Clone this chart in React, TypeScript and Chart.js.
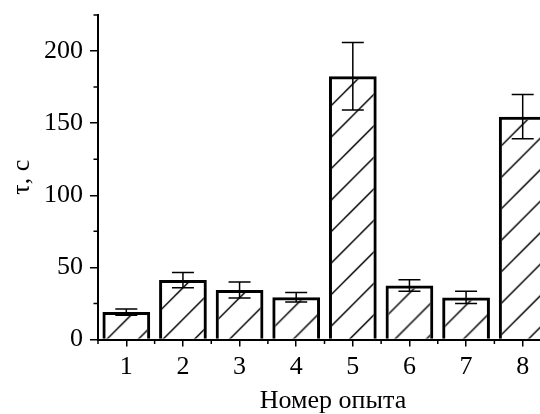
import { useEffect, useRef } from 'react';
import { Chart, registerables } from 'chart.js';

Chart.register(...registerables);

// ---- data ----
const experiments = [1, 2, 3, 4, 5, 6, 7, 8];
const xTickLabels = ['1', '2', '3', '4', '5', '6', '7', '8'];
const tauValues = [19, 41.2, 34.3, 29.3, 182.5, 37.5, 29.2, 154.5];
const tauErrors = [2.1, 5.3, 5.5, 3.3, 23.4, 4, 4.3, 15.3];
const yMajorTicks = [0, 50, 100, 150, 200];
const yMinorTicks = [25, 75, 125, 175, 225];
const xMinorTicks = [0.5, 1.5, 2.5, 3.5, 4.5, 5.5, 6.5, 7.5, 8.5];
const xTitle = 'Номер опыта';
const yTitle = 'τ, с';

const X_MIN = 0.5;
const X_MAX = 8.8;
const Y_MIN = 0;
const Y_MAX = 225;
const BAR_FRACTION = 0.843;
const FONT = '"Liberation Serif", "Times New Roman", serif';

function makeHatchTile(): HTMLCanvasElement {
  const step = 31.5;
  const size = 63;
  const c = document.createElement('canvas');
  c.width = size;
  c.height = size;
  const g = c.getContext('2d')!;
  g.strokeStyle = '#000';
  g.lineWidth = 1.5;
  for (let k = -1; k <= 5; k++) {
    const d = k * step;
    g.beginPath();
    g.moveTo(d + 6, -6);
    g.lineTo(-6, d + 6);
    g.stroke();
  }
  return c;
}

const minorTicksPlugin = {
  id: 'minorTicks',
  afterDraw(chart: any) {
    const { ctx, chartArea, scales } = chart;
    const xs = scales.x;
    const ys = scales.y;
    ctx.save();
    ctx.strokeStyle = '#000';
    ctx.lineWidth = 1.5;
    ctx.beginPath();
    for (const v of yMinorTicks) {
      const y = ys.getPixelForValue(v);
      ctx.moveTo(chartArea.left - 4.5, y);
      ctx.lineTo(chartArea.left, y);
    }
    for (const v of xMinorTicks) {
      const x = xs.getPixelForValue(v);
      ctx.moveTo(x, chartArea.bottom);
      ctx.lineTo(x, chartArea.bottom + 4.5);
    }
    ctx.stroke();
    ctx.restore();
  },
};

const errorBarsPlugin = {
  id: 'errorBars',
  afterDatasetsDraw(chart: any) {
    const { ctx, scales } = chart;
    const ys = scales.y;
    const meta = chart.getDatasetMeta(0);
    ctx.save();
    ctx.strokeStyle = '#000';
    ctx.lineWidth = 1.5;
    meta.data.forEach((el: any, i: number) => {
      const x = el.x;
      const yTop = ys.getPixelForValue(tauValues[i] + tauErrors[i]);
      const yBot = ys.getPixelForValue(tauValues[i] - tauErrors[i]);
      const half = 11;
      ctx.beginPath();
      ctx.moveTo(x, yTop);
      ctx.lineTo(x, yBot);
      ctx.moveTo(x - half, yTop);
      ctx.lineTo(x + half, yTop);
      ctx.moveTo(x - half, yBot);
      ctx.lineTo(x + half, yBot);
      ctx.stroke();
    });
    ctx.restore();
  },
};

export default function App() {
  const canvasRef = useRef<HTMLCanvasElement | null>(null);

  useEffect(() => {
    const canvas = canvasRef.current;
    if (!canvas) return;
    const tile = makeHatchTile();

    const chart = new Chart(canvas, {
      type: 'bar',
      data: {
        datasets: [
          {
            data: experiments.map((x, i) => ({ x, y: tauValues[i] })),
            borderColor: '#000',
            borderWidth: 3,
            borderSkipped: 'start',
            categoryPercentage: 1,
            barPercentage: BAR_FRACTION,
            backgroundColor: (c: any) => {
              const ch = c.chart;
              const pattern = ch.ctx.createPattern(tile, 'repeat');
              const xs = ch.scales?.x;
              const ys = ch.scales?.y;
              if (!pattern) return 'transparent';
              if (xs && ys && c.dataIndex !== undefined) {
                const unit = xs.getPixelForValue(1) - xs.getPixelForValue(0);
                const w = unit * BAR_FRACTION;
                const left = xs.getPixelForValue(experiments[c.dataIndex]) - w / 2;
                const top = ys.getPixelForValue(tauValues[c.dataIndex]);
                pattern.setTransform(new DOMMatrix().translate(left, top));
              }
              return pattern;
            },
          },
        ],
      },
      options: {
        animation: false,
        responsive: false,
        devicePixelRatio: 1,
        layout: { padding: { top: 15, right: 12, bottom: 0, left: 0 } },
        plugins: {
          legend: { display: false },
          tooltip: { enabled: false },
        },
        scales: {
          x: {
            type: 'linear',
            offset: false,
            bounds: 'data',
            min: X_MIN,
            max: X_MAX,
            afterBuildTicks: (scale: any) => {
              scale.ticks = experiments.map((v) => ({ value: v }));
            },
            afterFit: (scale: any) => {
              scale.height = 74.5;
              scale.paddingLeft = 0;
              scale.paddingRight = 0;
            },
            ticks: {
              autoSkip: false,
              maxRotation: 0,
              color: '#000',
              padding: 5,
              font: { family: FONT, size: 26 },
              callback: (_v: any, i: number) => xTickLabels[i],
            },
            grid: {
              offset: false,
              drawOnChartArea: false,
              drawTicks: true,
              tickLength: 7,
              color: '#000',
              lineWidth: 1.5,
              tickWidth: 1.5,
            },
            border: { display: true, color: '#000', width: 2 },
            title: {
              display: true,
              text: xTitle,
              color: '#000',
              font: { family: FONT, size: 26, lineHeight: 1 },
              padding: { top: 0, bottom: 0 },
            },
          },
          y: {
            type: 'linear',
            bounds: 'data',
            min: Y_MIN,
            max: Y_MAX,
            afterBuildTicks: (scale: any) => {
              scale.ticks = yMajorTicks.map((v) => ({ value: v }));
            },
            afterFit: (scale: any) => {
              scale.width = 98;
              scale.paddingTop = 0;
              scale.paddingBottom = 0;
            },
            ticks: {
              autoSkip: false,
              color: '#000',
              padding: 7,
              font: { family: FONT, size: 26 },
              callback: (v: any) => String(v),
            },
            grid: {
              drawOnChartArea: false,
              drawTicks: true,
              tickLength: 8,
              color: '#000',
              lineWidth: 1.5,
              tickWidth: 1.5,
            },
            border: { display: true, color: '#000', width: 2 },
            title: {
              display: true,
              text: yTitle,
              color: '#000',
              font: { family: FONT, size: 26, lineHeight: 1 },
              padding: { top: 9, bottom: 0 },
            },
          },
        },
      },
      plugins: [minorTicksPlugin, errorBarsPlugin],
    } as any);

    return () => chart.destroy();
  }, []);

  return (
    <div
      style={{
        position: 'fixed',
        left: 0,
        top: 0,
        width: 540,
        height: 414,
        overflow: 'hidden',
        background: '#fff',
      }}
    >
      <canvas
        ref={canvasRef}
        width={580}
        height={414}
        style={{ display: 'block', width: 580, height: 414 }}
      />
    </div>
  );
}
